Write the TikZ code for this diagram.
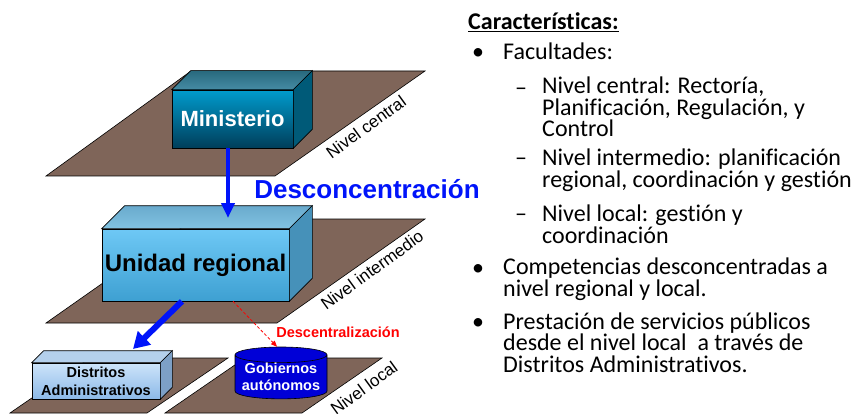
\documentclass[tikz,border=0pt]{standalone}
\usepackage{fontspec}
\setmainfont{Liberation Sans}
\newfontfamily\calibri[Ligatures=NoCommon]{Carlito}
\usetikzlibrary{calc,shapes.geometric,arrows.meta}

\begin{document}
\begin{tikzpicture}[x=1pt, y=-1pt, every node/.style={font=\small}]
			% Define colors
			\definecolor{plane_bg}{RGB}{127, 101, 89}
			\definecolor{mini_top}{RGB}{0, 155, 205}
			\definecolor{mini_bot}{RGB}{0, 62, 90}
			\definecolor{mini_lid_a}{RGB}{70, 140, 165}
			\definecolor{mini_lid_b}{RGB}{40, 105, 125}
			\definecolor{mini_side}{RGB}{0, 90, 120}
			\definecolor{ur_top}{RGB}{110, 200, 245}
			\definecolor{ur_bot}{RGB}{62, 160, 210}
			\definecolor{ur_lid_a}{RGB}{105, 170, 205}
			\definecolor{ur_lid_b}{RGB}{130, 195, 225}
			\definecolor{ur_side}{RGB}{70, 145, 185}
			\definecolor{dist_top}{RGB}{205, 228, 250}
			\definecolor{dist_bot}{RGB}{140, 185, 232}
			\definecolor{dist_lid}{RGB}{180, 208, 236}
			\definecolor{dist_side}{RGB}{125, 160, 198}
			\definecolor{gob_blue}{RGB}{0, 0, 215}
			\definecolor{flow_blue}{RGB}{0, 20, 250}
			\definecolor{desc_red}{RGB}{255, 0, 0}

			% Styles
			\tikzstyle{level_plane} = [fill=plane_bg, draw=black, line width=0.6pt]
			\tikzstyle{box_front} = [draw=black, line width=0.6pt, inner sep=0pt, align=center]
			\tikzstyle{box_face} = [draw=black, line width=0.6pt]
			\tikzstyle{level_label} = [font=\fontsize{17}{17}\selectfont, rotate=36]
			\tikzstyle{flow_arrow} = [draw=flow_blue]
			\tikzstyle{list_text} = [font=\calibri\fontsize{24}{21.5}\selectfont, anchor=base west, align=left, inner sep=0pt]

			% Box depths
			\def\minidepth{19}
			\def\urdepth{23}
			\def\distdepth{12}

			\path[fill=white] (0,0) rectangle (864,414);
			\useasboundingbox (0,0) rectangle (864,414);

			% Level planes
			\path[level_plane] (46,176) -- (275,176) -- (425,71) -- (191,71) -- cycle;
			\path[level_plane] (46,323) -- (277,323) -- (425,219) -- (194,219) -- cycle;
			\path[level_plane] (10,413) -- (147,413) -- (228,358) -- (90,358) -- cycle;
			\path[level_plane] (165,413) -- (302,413) -- (382,358) -- (245,358) -- cycle;

			\node[level_label] (lvcentral) at (366,127) {Nivel central};
			\node[level_label] (lvinter) at (372,270) {Nivel intermedio};
			\node[level_label] (lvlocal) at (364,388) {Nivel local};

			% Ministerio box
			\node[box_front, top color=mini_top, bottom color=mini_bot, text=white, minimum width=121, minimum height=58, font=\bfseries\fontsize{22}{22}\selectfont] (mini) at (232.5,119) {Ministerio};
			\path[box_face, top color=mini_lid_b, bottom color=mini_lid_a] (mini.north west) -- ++(\minidepth,-\minidepth) -- ($(mini.north east)+(\minidepth,-\minidepth)$) -- (mini.north east) -- cycle;
			\path[box_face, fill=mini_side] (mini.north east) -- ++(\minidepth,-\minidepth) -- ($(mini.south east)+(\minidepth,-\minidepth)$) -- (mini.south east) -- cycle;

			% Unidad regional box
			\node[box_front, top color=ur_top, bottom color=ur_bot, minimum width=187, minimum height=72, font=\bfseries\fontsize{24}{24}\selectfont] (unidad) at (195.5,265) {Unidad regional};
			\path[box_face, top color=ur_lid_a, bottom color=ur_lid_b] (unidad.north west) -- ++(\urdepth,-\urdepth) -- ($(unidad.north east)+(\urdepth,-\urdepth)$) -- (unidad.north east) -- cycle;
			\path[box_face, fill=ur_side] (unidad.north east) -- ++(\urdepth,-\urdepth) -- ($(unidad.south east)+(\urdepth,-\urdepth)$) -- (unidad.south east) -- cycle;

			% Local level
			\node[box_front, top color=dist_top, bottom color=dist_bot, minimum width=128, minimum height=36, font=\bfseries\fontsize{14.5}{18}\selectfont] (distritos) at (96,381) {Distritos\\Administrativos};
			\path[box_face, fill=dist_lid] (distritos.north west) -- ++(\distdepth,-\distdepth) -- ($(distritos.north east)+(\distdepth,-\distdepth)$) -- (distritos.north east) -- cycle;
			\path[box_face, fill=dist_side] (distritos.north east) -- ++(\distdepth,-\distdepth) -- ($(distritos.south east)+(\distdepth,-\distdepth)$) -- (distritos.south east) -- cycle;
			\node[shape=cylinder, shape border rotate=90, aspect=0.2, draw=black, line width=0.6pt, cylinder uses custom fill, cylinder body fill=gob_blue, cylinder end fill=gob_blue, minimum width=92, minimum height=48, inner sep=0pt, text=white, align=center, font=\bfseries\fontsize{14.5}{17.5}\selectfont] (gob) at (281,377) {Gobiernos\\autónomos};

			% Arrows
			\coordinate (ur_hit) at (228,218);
			\coordinate (dist_hit) at (133,349);
			\draw[flow_arrow, line width=4pt, -{Triangle[length=15pt,width=13pt]}] (mini.south -| ur_hit) -- (ur_hit);
			\draw[flow_arrow, line width=6pt, -{Triangle[length=16pt,width=18pt]}] ([xshift=-13.5pt]unidad.south) -- (dist_hit);
			\draw[desc_red, line width=0.8pt, dash pattern=on 3pt off 2pt, -{Triangle[length=6pt,width=5pt]}] ([xshift=37.5pt]unidad.south) -- ([xshift=-4pt]gob.north);

			\node[text=flow_blue, font=\bfseries\fontsize{26}{26}\selectfont] (desconc) at (367,189) {Desconcentración};
			\node[text=desc_red, font=\bfseries\fontsize{14.5}{14.5}\selectfont] (descent) at (338,332) {Descentralización};

			% Characteristics list (base = last line)
			\node[list_text, font=\calibri\bfseries\fontsize{24}{21.5}\selectfont] (title) at (468,30) {\underline{Características:}};
			\node[list_text] (bul_a) at (472,60) {•};
			\node[list_text] (fac) at (503,60) {Facultades:};
			\node[list_text] (dash_a) at (515,96) {–};
			\node[list_text] (central) at (542,137) {Nivel central: Rectoría,\\Planificación, Regulación, y\\Control};
			\node[list_text] (dash_b) at (515,166) {–};
			\node[list_text] (inter) at (542,187) {Nivel intermedio: planificación\\regional, coordinación y gestión};
			\node[list_text] (dash_c) at (515,222) {–};
			\node[list_text] (local) at (542,243) {Nivel local: gestión y\\coordinación};
			\node[list_text] (bul_b) at (472,275) {•};
			\node[list_text] (compet) at (503,296) {Competencias desconcentradas a\\nivel regional y local.};
			\node[list_text] (bul_c) at (472,329) {•};
			\node[list_text] (prest) at (503,372) {Prestación de servicios públicos\\desde el nivel local\ \ a través de\\Distritos Administrativos.};

		\end{tikzpicture}
\end{document}
